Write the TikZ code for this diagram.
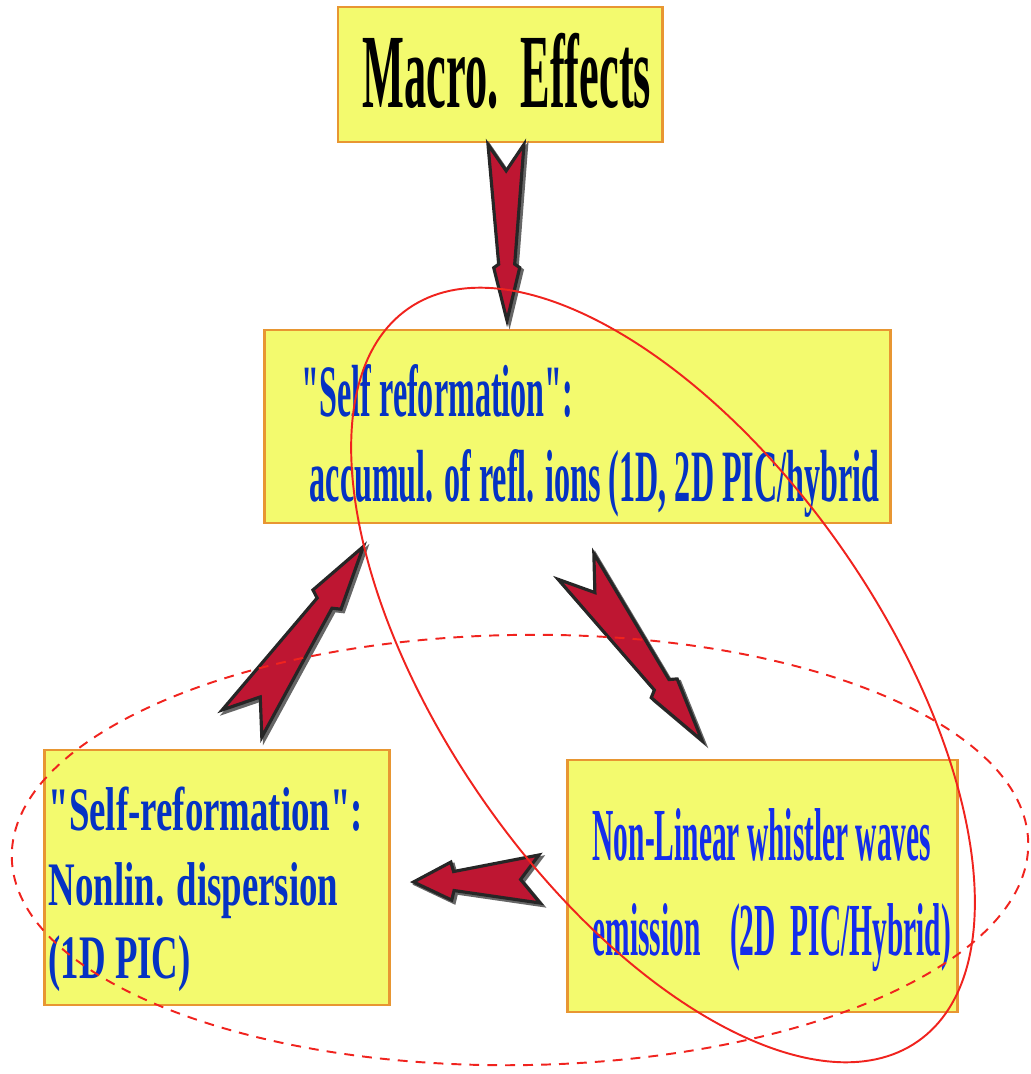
\documentclass[tikz,border=0pt]{standalone}
\usepackage{fontspec}
\usepackage{xcolor}
\usepackage{tikz}
\usetikzlibrary{calc}

\newfontfamily\macrofont[FakeStretch=0.42]{Liberation Serif}
\newfontfamily\topfont[FakeStretch=0.435]{Liberation Serif}
\newfontfamily\leftfont[FakeStretch=0.595]{Liberation Serif}
\newfontfamily\rightfont[FakeStretch=0.393]{Liberation Serif}

\definecolor{boxfill}{RGB}{243,250,110}
\definecolor{boxline}{RGB}{232,150,50}
\definecolor{txtblue}{RGB}{5,50,195}
\definecolor{txtbright}{RGB}{20,45,235}
\definecolor{boltred}{RGB}{190,22,50}
\definecolor{ellred}{RGB}{240,35,30}

% fat notched arrow: tail, tip, tail half width, shaft half width, barb half width
\newcommand{\bolt}[5]{%
  \filldraw[boltstyle]
    ($(#1)!#3!90:(#2)$) -- ($(#1)!0.15!(#2)$) -- ($(#1)!#3!-90:(#2)$)
    -- ($(#1)!0.68!(#2)!#4!-90:(#2)$) -- ($(#1)!0.70!(#2)!#5!-90:(#2)$)
    -- (#2)
    -- ($(#1)!0.70!(#2)!#5!90:(#2)$) -- ($(#1)!0.68!(#2)!#4!90:(#2)$) -- cycle;}

\tikzset{
  box/.style={draw=boxline, fill=boxfill, line width=0.8pt, inner sep=0pt},
  boltstyle/.style={fill=boltred, draw=black!85, line width=0.9pt, line join=miter,
    preaction={fill=black!60, draw=black!60, line width=0.9pt,
      transform canvas={xshift=0.025cm, yshift=-0.025cm}}},
  macrotext/.style={font=\macrofont\bfseries\fontsize{30}{36}\selectfont, anchor=base west, inner sep=0pt},
  toptext/.style={font=\topfont\bfseries\fontsize{21}{25}\selectfont, text=txtblue, anchor=base west, inner sep=0pt},
  lefttext/.style={font=\leftfont\bfseries\fontsize{17.6}{21}\selectfont, text=txtblue, anchor=base west, inner sep=0pt},
  righttext/.style={font=\rightfont\bfseries\fontsize{21.3}{27}\selectfont, text=txtbright, anchor=base west, inner sep=0pt},
  ellsolid/.style={draw=ellred, line width=0.55pt},
  elldash/.style={draw=ellred, line width=0.55pt, dash pattern=on 2.8pt off 2.3pt}
}

\begin{document}
\begin{tikzpicture}[x=0.01cm, y=0.01cm]
  \useasboundingbox (0,0) rectangle (1030,-1074);

  % boxes
  \node[box, minimum width=3.24cm, minimum height=1.35cm] (macro) at (500,-74.5) {};
  \node[box, minimum width=6.25cm, minimum height=1.93cm] (selfref) at (577.5,-426.5) {};
  \node[box, minimum width=3.44cm, minimum height=2.55cm] (disp) at (217,-877.5) {};
  \node[box, minimum width=3.89cm, minimum height=2.52cm] (whist) at (762.5,-886) {};

  % texts
  \node[macrotext] (macrolbl) at (362,-108) {Macro.~~Effects};
  \node[toptext] (selfa) at (301,-417) {"Self reformation":};
  \node[toptext] (selfb) at (309,-502) {accumul. of refl. ions (1D, 2D PIC/hybrid};
  \node[lefttext] (dispa) at (48,-830) {"Self-reformation":};
  \node[lefttext] (dispb) at (48,-905) {Nonlin. dispersion};
  \node[lefttext] (dispc) at (48,-978) {(1D PIC)};
  \node[righttext] (whista) at (592,-860) {Non-Linear whistler waves};
  \node[righttext] (whistb) at (592,-955) {emission~~~~(2D~~PIC/Hybrid)};

  % arrow ends
  \coordinate (ta) at ($(macro.south)+(6,-1)$);
  \coordinate (ha) at ($(selfref.north)+(-70.5,8)$);
  \coordinate (tb) at ($(disp.north)+(25,25)$);
  \coordinate (hb) at ($(selfref.south west)+(100,-22)$);
  \coordinate (tc) at ($(selfref.south)+(-1.5,-42)$);
  \coordinate (hc) at ($(whist.north)+(-60.5,18)$);
  \coordinate (td) at ($(whist.west)+(-27,7)$);
  \coordinate (hd) at ($(disp.east)+(23,-4.5)$);

  \bolt{ta}{ha}{0.18cm}{0.08cm}{0.13cm}
  \bolt{tb}{hb}{0.24cm}{0.09cm}{0.17cm}
  \bolt{tc}{hc}{0.22cm}{0.09cm}{0.16cm}
  \bolt{td}{hd}{0.24cm}{0.095cm}{0.19cm}

  % ellipses
  \draw[ellsolid, rotate around={-55.2:(663,-675)}] (663,-675) ellipse (4.46cm and 2.19cm);
  \draw[elldash, rotate around={0.8:(520,-850)}] (520,-850) ellipse (5.08cm and 2.15cm);
\end{tikzpicture}
\end{document}
